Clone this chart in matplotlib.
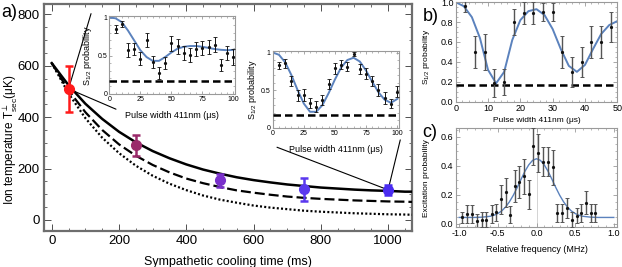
import matplotlib
matplotlib.use('Agg')
import matplotlib.pyplot as plt
from matplotlib.patches import ConnectionPatch
from matplotlib.ticker import MultipleLocator

plt.rcParams['font.family'] = ['Liberation Sans', 'DejaVu Sans']
plt.rcParams['mathtext.fontset'] = 'custom'
plt.rcParams['mathtext.rm'] = 'Liberation Sans'
plt.rcParams['mathtext.it'] = 'Liberation Sans:italic'
plt.rcParams['mathtext.bf'] = 'Liberation Sans:bold'

# ---- panel a: measured temperatures ----
cool_t = [50, 250, 500, 750, 1000]
temp = [510, 290, 155, 120, 117]
temp_err = [90, 40, 25, 45, 20]
pt_colors = ['#ff1a1a', '#9a2a6a', '#7a30cc', '#5a38ee', '#4a2cf0']

# model curves
model_t = [0, 50, 100, 150, 200, 250, 300, 350, 400, 450, 500, 550, 600,
           650, 700, 750, 800, 850, 900, 950, 1000, 1050, 1075]
model_solid = [610, 524, 452, 393, 343, 302, 268, 240, 216, 196, 180, 166, 155,
               146, 138, 132, 126, 122, 118, 115, 113, 110, 110]
model_dash = [610, 504, 419, 350, 294, 250, 214, 185, 161, 143, 128, 115, 106,
              98, 91, 86, 82, 79, 76, 74, 72, 71, 70]
model_dot = [610, 492, 396, 320, 260, 211, 172, 141, 116, 95, 79, 67, 56,
             48, 42, 36, 32, 29, 26, 24, 22, 21, 20]

# ---- insets: Rabi flops at 50 ms and 1000 ms ----
pulse = [5, 10, 15, 20, 25, 30, 35, 40, 45, 50, 55, 60, 65, 70, 75, 80, 85, 90, 95, 100]
ins1_p = [0.85, 0.91, 0.57, 0.59, 0.46, 0.70, 0.42, 0.27, 0.40, 0.66,
          0.62, 0.53, 0.51, 0.59, 0.60, 0.61, 0.64, 0.38, 0.53, 0.48]
ins1_err = [0.05, 0.04, 0.09, 0.08, 0.09, 0.09, 0.08, 0.08, 0.08, 0.10,
            0.10, 0.09, 0.09, 0.09, 0.09, 0.09, 0.10, 0.08, 0.09, 0.10]
ins2_p = [0.83, 0.86, 0.62, 0.43, 0.44, 0.33, 0.28, 0.37, 0.58, 0.79,
          0.84, 0.81, 0.98, 0.78, 0.72, 0.62, 0.50, 0.40, 0.32, 0.48]
ins2_err = [0.05, 0.06, 0.07, 0.07, 0.08, 0.07, 0.07, 0.07, 0.07, 0.07,
            0.06, 0.06, 0.03, 0.07, 0.07, 0.07, 0.08, 0.08, 0.06, 0.07]
fit_t = [0, 5, 10, 15, 20, 25, 30, 35, 40, 45, 50, 55, 60, 65, 70, 75, 80, 85, 90, 95, 100]
fit1_p = [1.00, 0.99, 0.94, 0.83, 0.70, 0.57, 0.48, 0.43, 0.43, 0.48, 0.54,
          0.59, 0.615, 0.625, 0.625, 0.615, 0.60, 0.585, 0.575, 0.57, 0.575]
fit2_p = [1.00, 0.97, 0.87, 0.70, 0.50, 0.32, 0.21, 0.21, 0.30, 0.46, 0.64,
          0.80, 0.90, 0.93, 0.88, 0.76, 0.61, 0.47, 0.37, 0.33, 0.38]
dark_level = 0.17

# ---- panel b ----
b_t = [3, 6, 9, 12, 15, 18, 21, 24, 27, 30, 33, 36, 39, 42, 45, 48]
b_p = [0.96, 0.50, 0.50, 0.19, 0.20, 0.80, 0.89, 0.89, 0.90, 0.90,
       0.50, 0.30, 0.40, 0.60, 0.60, 0.75]
b_err = [0.06, 0.16, 0.18, 0.14, 0.13, 0.13, 0.11, 0.11, 0.09, 0.09,
         0.16, 0.15, 0.15, 0.16, 0.16, 0.15]
bfit_t = [0, 2.5, 5, 7.5, 10, 12.5, 15, 17.5, 20, 22.5, 25, 27.5, 30,
          32.5, 35, 37.5, 40, 42.5, 45, 47.5, 50]
bfit_p = [1.00, 0.96, 0.85, 0.64, 0.32, 0.185, 0.30, 0.62, 0.82, 0.91, 0.93,
          0.87, 0.73, 0.53, 0.36, 0.30, 0.37, 0.53, 0.68, 0.77, 0.81]

# ---- panel c ----
c_f = [-0.96, -0.90, -0.83, -0.77, -0.71, -0.65, -0.58, -0.53, -0.46, -0.40,
       -0.34, -0.28, -0.22, -0.16, -0.10, -0.04, 0.02, 0.09, 0.15, 0.21,
       0.27, 0.33, 0.40, 0.46, 0.52, 0.58, 0.64, 0.70, 0.76]
c_p = [0.045, 0.07, 0.07, 0.02, 0.03, 0.03, 0.07, 0.08, 0.17, 0.22,
       0.064, 0.26, 0.29, 0.33, 0.205, 0.535, 0.49, 0.43, 0.43, 0.39,
       0.075, 0.075, 0.11, 0.03, 0.057, 0.075, 0.146, 0.075, 0.075]
c_err = [0.04, 0.06, 0.06, 0.05, 0.05, 0.05, 0.06, 0.06, 0.10, 0.10,
         0.06, 0.11, 0.11, 0.12, 0.10, 0.13, 0.13, 0.10, 0.10, 0.12,
         0.06, 0.06, 0.07, 0.05, 0.05, 0.06, 0.08, 0.06, 0.06]
cfit_f = [-1.0, -0.9, -0.8, -0.7, -0.6, -0.55, -0.5, -0.45, -0.4, -0.35, -0.3,
          -0.25, -0.2, -0.15, -0.1, -0.05, 0.0, 0.05, 0.1, 0.15, 0.2, 0.25,
          0.3, 0.35, 0.4, 0.45, 0.5, 0.55, 0.6, 0.7, 0.8, 0.9, 1.0]
cfit_p = [0.045, 0.045, 0.045, 0.047, 0.053, 0.060, 0.072, 0.090, 0.117, 0.153,
          0.198, 0.251, 0.308, 0.363, 0.408, 0.439, 0.450, 0.439, 0.408, 0.363,
          0.308, 0.251, 0.198, 0.153, 0.117, 0.090, 0.072, 0.060, 0.053, 0.047,
          0.045, 0.045, 0.045]

W, H = 622, 267
FIT_BLUE = '#5b82bd'


def px_rect(x0, y0, x1, y1):
    return [x0 / W, 1 - y1 / H, (x1 - x0) / W, (y1 - y0) / H]


def frame(ax, color, lw, major, minor, size):
    for s in ax.spines.values():
        s.set_color(color)
        s.set_linewidth(lw)
    ax.tick_params(which='both', direction='in', top=True, right=True,
                   color=color, labelsize=size, pad=1.5)
    ax.tick_params(which='major', length=major, width=0.6)
    ax.tick_params(which='minor', length=minor, width=0.5)


fig = plt.figure(figsize=(W / 100, H / 100), dpi=100)

# ---------------- panel a ----------------
ax = fig.add_axes(px_rect(44, 4, 412, 231))
ax.set_facecolor('none')
ax.plot(model_t, model_solid, color='k', lw=1.8, zorder=3)
ax.plot(model_t, model_dash, color='k', lw=1.6, dashes=(4.5, 1.8), zorder=3)
ax.plot(model_t, model_dot, color='k', lw=1.6, dashes=(0.9, 1.0), zorder=3)
for t, T, e, c in zip(cool_t, temp, temp_err, pt_colors):
    ax.errorbar(t, T, yerr=e, fmt='o', color=c, ms=7, elinewidth=1.8,
                capsize=3, capthick=1.8, zorder=5)
ax.set_xlim(-23, 1071)
ax.set_ylim(-43, 840)
ax.xaxis.set_major_locator(MultipleLocator(200))
ax.xaxis.set_minor_locator(MultipleLocator(50))
ax.yaxis.set_major_locator(MultipleLocator(200))
ax.yaxis.set_minor_locator(MultipleLocator(50))
frame(ax, '#6e6e6e', 1.6, 5, 2.5, 9.5)
ax.tick_params(which='both', color='#333333', pad=3)
ax.set_xlabel('Sympathetic cooling time (ms)', fontsize=9)
ax.set_ylabel('Ion temperature T$^{\\perp}_{\\mathrm{sec}}$(μK)', fontsize=8.5)
ax.xaxis.set_label_coords(0.5, -0.112)
ax.yaxis.set_label_coords(-0.068, 0.4)


def inset(rect, pts, err, fit):
    ia = fig.add_axes(rect)
    ia.set_facecolor('white')
    ia.plot(fit_t, fit, color=FIT_BLUE, lw=1.4, zorder=2)
    ia.plot([0, 100], [dark_level, dark_level], color='k', lw=1.8,
            dashes=(3, 1.6), zorder=3)
    ia.errorbar(pulse, pts, yerr=err, fmt='o', color='#111111', ms=1.3,
                elinewidth=0.7, capsize=1.2, capthick=0.6, zorder=4)
    ia.set_xlim(0, 101.5)
    ia.set_ylim(-0.01, 1.02)
    ia.set_xticks([0, 25, 50, 75, 100])
    ia.set_yticks([0, 0.5, 1])
    ia.set_yticklabels(['0', '0.5', '1'])
    ia.xaxis.set_minor_locator(MultipleLocator(5))
    ia.yaxis.set_minor_locator(MultipleLocator(0.1))
    frame(ia, '#9a9a9a', 0.8, 2.5, 1.2, 5)
    ia.set_xlabel('Pulse width 411nm (μs)', fontsize=6.5, labelpad=1)
    ia.set_ylabel('S$_{\\mathrm{1/2}}$ probability', fontsize=6.5, labelpad=1)
    return ia


ins1 = inset(px_rect(109.3, 16, 235.3, 94.3), ins1_p, ins1_err, fit1_p)
ins1.xaxis.set_label_coords(0.495, -0.21)
ins1.yaxis.set_label_coords(-0.125, 0.49)
ins2 = inset(px_rect(272.7, 51, 399, 128.3), ins2_p, ins2_err, fit2_p)
ins2.xaxis.set_label_coords(0.5, -0.215)
ins2.yaxis.set_label_coords(-0.11, 0.5)

# connector lines from the data points to the insets
for xyb, ia, pt in [((-0.145, 1.03), ins1, 0), ((0.053, -0.19), ins1, 0),
                    ((0.034, -0.245), ins2, 4), ((1.01, -0.15), ins2, 4)]:
    con = ConnectionPatch(xyA=(cool_t[pt], temp[pt]), coordsA=ax.transData,
                          xyB=xyb, coordsB=ia.transAxes, color='k', lw=0.8)
    con.set_zorder(-1)
    fig.add_artist(con)

fig.text(0.002, 0.952, 'a)', fontsize=13, va='center', ha='left')

# ---------------- panel b ----------------
bx = fig.add_axes(px_rect(455.7, 2.2, 617.3, 101.7))
bx.plot(bfit_t, bfit_p, color=FIT_BLUE, lw=1.4, zorder=2)
bx.plot([0, 50], [dark_level, dark_level], color='k', lw=1.8,
        dashes=(3, 1.6), zorder=3)
bx.errorbar(b_t, b_p, yerr=b_err, fmt='o', color='#111111', ms=1.3,
            ecolor='#555555', elinewidth=1.0, capsize=1.4, capthick=0.7, zorder=4)
bx.set_xlim(0, 50)
bx.set_ylim(0, 1.0)
bx.xaxis.set_major_locator(MultipleLocator(10))
bx.xaxis.set_minor_locator(MultipleLocator(2))
bx.yaxis.set_major_locator(MultipleLocator(0.2))
bx.yaxis.set_minor_locator(MultipleLocator(0.05))
bx.set_yticklabels([f'{v:.1f}' for v in bx.get_yticks()])
frame(bx, '#9a9a9a', 0.8, 3, 1.5, 6.5)
bx.set_xlabel('Pulse width 411nm (μs)', fontsize=6)
bx.set_ylabel('S$_{\\mathrm{1/2}}$ probability', fontsize=6)
bx.xaxis.set_label_coords(0.5, -0.155)
bx.yaxis.set_label_coords(-0.145, 0.45)
fig.text(0.679, 0.94, 'b)', fontsize=13, va='center', ha='left')

# ---------------- panel c ----------------
cx = fig.add_axes(px_rect(455.7, 128.3, 617.3, 227.3))
cx.axvline(0, color='#cccccc', lw=0.6, zorder=1)
cx.plot(cfit_f, cfit_p, color=FIT_BLUE, lw=1.0, zorder=2)
cx.errorbar(c_f, c_p, yerr=c_err, fmt='o', color='#111111', ms=1.3,
            ecolor='#555555', elinewidth=1.0, capsize=1.4, capthick=0.7, zorder=4)
cx.set_xlim(-1.045, 1.045)
cx.set_ylim(-0.023, 0.66)
cx.xaxis.set_major_locator(MultipleLocator(0.5))
cx.xaxis.set_minor_locator(MultipleLocator(0.1))
cx.yaxis.set_major_locator(MultipleLocator(0.2))
cx.yaxis.set_minor_locator(MultipleLocator(0.05))
cx.set_xticks([-1.0, -0.5, 0.0, 0.5, 1.0])
cx.set_xticklabels(['-1.0', '-0.5', '0.0', '0.5', '1.0'])
cx.set_yticks([0.0, 0.2, 0.4, 0.6])
cx.set_yticklabels(['0.0', '0.2', '0.4', '0.6'])
frame(cx, '#9a9a9a', 0.8, 3, 1.5, 6.5)
cx.set_xlabel('Relative frequency (MHz)', fontsize=6.5)
cx.set_ylabel('Excitation probability', fontsize=6)
cx.xaxis.set_label_coords(0.5, -0.18)
cx.yaxis.set_label_coords(-0.16, 0.5)
fig.text(0.679, 0.502, 'c)', fontsize=13, va='center', ha='left')

fig.savefig('out.png', dpi=100, facecolor='white')
